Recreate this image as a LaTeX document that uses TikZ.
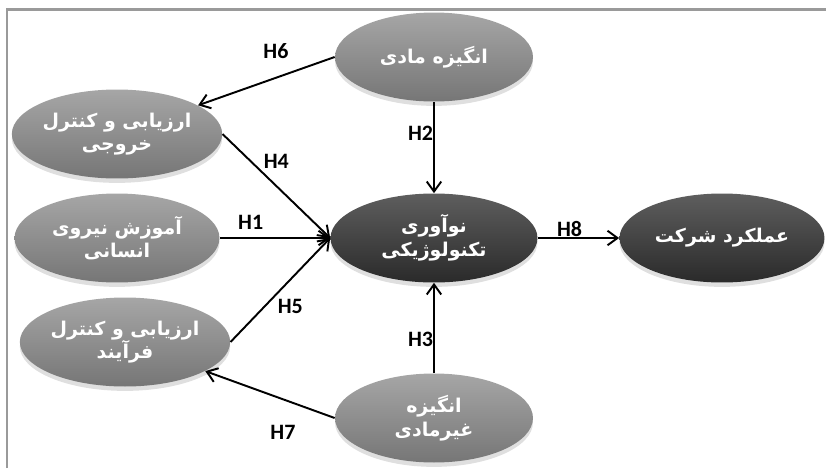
\documentclass[tikz,border=0pt]{standalone}
\usepackage{fontspec}
\setmainfont{Carlito}
\newfontfamily\farsi[Script=Arabic]{DejaVu Sans}
\TeXXeTstate=1
\usetikzlibrary{arrows.meta,shapes.geometric,shadows}
\definecolor{frameline}{HTML}{9A9A9A}
\definecolor{ovaltop}{HTML}{A6A6A6}
\definecolor{ovalbot}{HTML}{767676}
\definecolor{coretop}{HTML}{5E5E5E}
\definecolor{corebot}{HTML}{2A2A2A}
\newcommand{\fa}[1]{\beginR#1\endR}

\begin{document}
\begin{tikzpicture}[
  x=0.02cm,
  y=-0.02cm,
  >={Straight Barb[length=2mm,width=2.9mm]},
  oval/.style={
    ellipse,
    draw=none,
    top color=ovaltop,
    bottom color=ovalbot,
    text=white,
    font=\farsi\bfseries\fontsize{10.8}{13.5}\selectfont,
    align=center,
    inner sep=0pt,
    minimum width=4.1cm,
    minimum height=1.78cm,
    drop shadow={shadow xshift=0pt,shadow yshift=-2.5pt,opacity=.25}
  },
  core/.style={
    oval,
    top color=coretop,
    bottom color=corebot
  },
  link/.style={
    draw=black,
    line width=1.1pt,
    ->
  },
  hyp/.style={
    font=\bfseries\fontsize{12.5}{14}\selectfont,
    inner sep=1pt
  }
]
\useasboundingbox (0,0) rectangle (826,468);

\draw[frameline,line width=1.7pt] (7,468) -- (7,9) -- (826,9);

\node[oval,minimum width=3.96cm] (matmot) at (434,57) {\fa{انگیزه مادی}};
\node[oval] (outctrl) at (117,134) {\fa{ارزیابی و کنترل}\\\fa{خروجی}};
\node[oval] (hrtrain) at (117,238) {\fa{آموزش نیروی}\\\fa{انسانی}};
\node[oval,minimum width=4.02cm] (procctrl) at (125,342)
  {\fa{ارزیابی و کنترل}\\\fa{فرآیند}};
\node[core,minimum width=4.14cm] (techinn) at (434,238)
  {\fa{نوآوری}\\\fa{تکنولوژیکی}};
\node[core] (perf) at (722,238) {\fa{عملکرد شرکت}};
\node[oval,minimum width=3.96cm] (nonmot) at (434,418)
  {\fa{انگیزه}\\\fa{غیرمادی}};

\draw[link] (matmot.west) -- (outctrl)
  node[hyp,pos=.43,yshift=15pt] {H6};
\draw[link] (outctrl.east) -- (techinn.west)
  node[hyp,pos=.5,yshift=14pt] {H4};
\draw[link] (hrtrain.east) -- (techinn.west)
  node[hyp,pos=.28,yshift=9pt] {H1};
\draw[link] (procctrl.east) -- (techinn.west)
  node[hyp,pos=.6,yshift=-15pt] {H5};
\draw[link] (nonmot.west) -- (procctrl)
  node[hyp,pos=.4,yshift=-19pt] {H7};
\draw[link] (matmot.south) -- (techinn.north)
  node[hyp,pos=.34,anchor=east,inner sep=0pt] {H2};
\draw[link] (nonmot.north) -- (techinn.south)
  node[hyp,pos=.37,anchor=east,inner sep=0pt] {H3};
\draw[link] (techinn.east) -- (perf.west)
  node[hyp,pos=.39,yshift=5pt] {H8};

\end{tikzpicture}
\end{document}
